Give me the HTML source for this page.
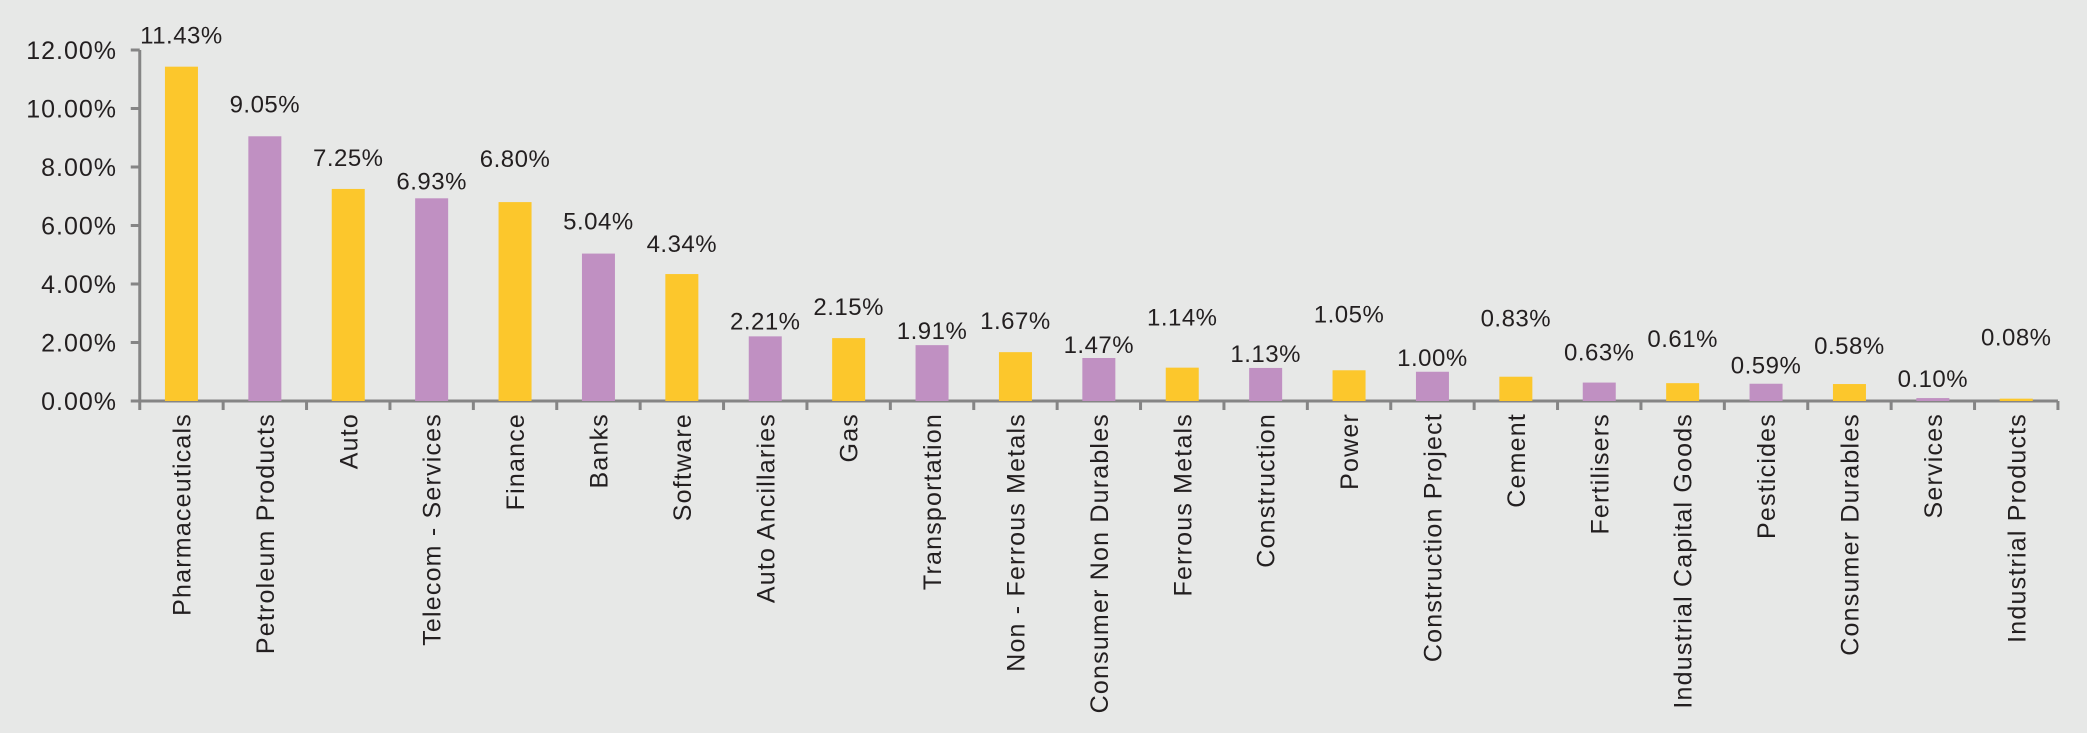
<!DOCTYPE html>
<html><head><meta charset="utf-8"><style>
html,body{margin:0;padding:0;background:#e7e8e7;}
svg{display:block;font-family:"Liberation Sans",sans-serif;}
</style></head><body>
<svg id="chart" width="2087" height="733" viewBox="0 0 2087 733" xmlns="http://www.w3.org/2000/svg">
<rect width="2087" height="733" fill="#e7e8e7"/>
<g id="axes"></g><g id="bars"></g><g id="labels"></g>
</svg>
<script>
const categories = ["Pharmaceuticals","Petroleum Products","Auto","Telecom - Services","Finance","Banks","Software","Auto Ancillaries","Gas","Transportation","Non - Ferrous Metals","Consumer Non Durables","Ferrous Metals","Construction","Power","Construction Project","Cement","Fertilisers","Industrial Capital Goods","Pesticides","Consumer Durables","Services","Industrial Products"];
const values = [11.43,9.05,7.25,6.93,6.80,5.04,4.34,2.21,2.15,1.91,1.67,1.47,1.14,1.13,1.05,1.00,0.83,0.63,0.61,0.59,0.58,0.10,0.08];
const yTicks = [0,2,4,6,8,10,12];
const labelLift = [32,33,32,18,44,33,31,16,32,15,32,14,51,15,57,15,59,31,45,19,39,20,62];

const NS="http://www.w3.org/2000/svg";
const x0=139.75, step=83.4, y0=401, ppu=29.25, barW=33;
const xScale=i=>x0+step*(i+0.5);
const yScale=v=>y0-v*ppu;
function mk(tag,attrs,parent){const e=document.createElementNS(NS,tag);for(const k in attrs)e.setAttribute(k,attrs[k]);parent.appendChild(e);return e;}
const axes=document.getElementById('axes'),bars=document.getElementById('bars'),labels=document.getElementById('labels');

const yAxis=mk('line',{x1:x0,y1:yScale(12),x2:x0,y2:y0,stroke:'#858585','stroke-width':3},axes);


const xAxis=mk('line',{x1:x0,y1:y0,x2:x0+step*categories.length,y2:y0,stroke:'#858585','stroke-width':3},axes);



yTicks.forEach(t=>{
  const y=yScale(t);
  const tk=mk('line',{x1:x0-9,y1:y,x2:x0,y2:y,stroke:'#858585','stroke-width':3},axes);
  
  
  const tl=mk('text',{x:117,y:y+9,'text-anchor':'end','font-size':25,'letter-spacing':1,fill:'#231f20'},axes);
  tl.textContent=t.toFixed(2)+'%';
  
  
});
for(let i=0;i<=categories.length;i++){
  const x=x0+step*i;
  const tk=mk('line',{x1:x,y1:y0,x2:x,y2:y0+9,stroke:'#858585','stroke-width':3},axes);
  
  
}
categories.forEach((c,i)=>{
  const v=values[i], cx=xScale(i), top=yScale(v);
  const b=mk('rect',{x:cx-barW/2,y:top,width:barW,height:y0-top,fill:i%2===0?'#fcc72c':'#c090c2'},bars);
  
  
  const vl=mk('text',{x:cx,y:top-labelLift[i]+9,'text-anchor':'middle','font-size':24,'letter-spacing':0.5,fill:'#231f20'},labels);
  vl.textContent=v.toFixed(2)+'%';
  
  
  const cl=mk('text',{x:0,y:0,'text-anchor':'end','font-size':25,'letter-spacing':1.2,fill:'#231f20',transform:`translate(${cx+9},${y0+12}) rotate(-90)`},labels);
  cl.textContent=c;
  
  
});
</script>
</body></html>
